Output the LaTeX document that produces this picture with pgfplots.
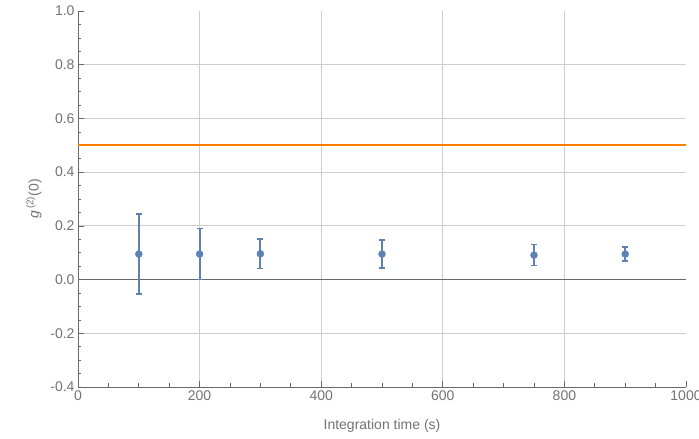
\documentclass[border=0pt]{standalone}
\usepackage{pgfplots}
\pgfplotsset{compat=1.18}
\usepackage{fontspec}
\setmainfont{Liberation Sans}
\definecolor{mblue}{RGB}{94,129,181}
\definecolor{morange}{RGB}{255,128,0}
\definecolor{tickgray}{RGB}{115,115,115}
\definecolor{axgray}{RGB}{105,105,105}
\definecolor{gridgray}{RGB}{205,205,205}
\begin{document}
\begin{tikzpicture}
\begin{axis}[
  scale only axis,
  width=608bp, height=376bp,
  xmin=0, xmax=1000, ymin=-0.4, ymax=1.0,
  axis lines*=left,
  axis line style={axgray, line width=0.8bp},
  xtick={200,400,600,800},
  extra x ticks={0,1000},
  extra x tick style={grid=none},
  ytick={-0.2,0.2,0.4,0.6,0.8},
  extra y ticks={-0.4,0,1.0},
  extra y tick style={grid=none},
  minor xtick={50,100,150,250,300,350,450,500,550,650,700,750,850,900,950},
  minor ytick={-0.35,-0.3,-0.25,-0.15,-0.1,-0.05,0.05,0.1,0.15,0.25,0.3,0.35,0.45,0.5,0.55,0.65,0.7,0.75,0.85,0.9,0.95},
  tick align=inside,
  major tick length=6bp,
  minor tick length=3.5bp,
  tick style={axgray, line width=0.7bp},
  grid=major,
  major grid style={gridgray, line width=0.8bp},
  minor grid style={draw=none},
  xticklabel style={font=\fontsize{14bp}{16bp}\selectfont, text=tickgray},
  yticklabel style={font=\fontsize{14bp}{16bp}\selectfont, text=tickgray},
  /pgf/number format/assume math mode=true,
  /pgf/number format/1000 sep={},
  xticklabel={\pgfmathprintnumber[fixed,precision=0,1000 sep={}]{\tick}},
  yticklabel={\pgfmathprintnumber[fixed,fixed zerofill,precision=1]{\tick}},
  xlabel={Integration time (s)},
  ylabel={\textit{g}\,\textsuperscript{(2)}(0)},
  xlabel style={font=\fontsize{14bp}{16bp}\selectfont, text=tickgray, yshift=-12bp},
  ylabel style={font=\fontsize{14bp}{16bp}\selectfont, text=tickgray, yshift=2bp},
  clip=false,
]
\addplot[axgray, line width=0.9bp, forget plot] coordinates {(0,0) (1000,0)};
\addplot[morange, line width=2.2bp] coordinates {(0,0.5) (1000,0.5)};
\addplot[mblue, only marks, mark=*, mark size=3.5bp,
  error bars/y dir=both, error bars/y explicit,
  error bars/error bar style={line width=2bp, mblue},
  error bars/error mark options={rotate=90, mark size=3bp, line width=1.6bp, mblue}]
  coordinates {
  (100,0.095) +- (0,0.149)
  (200,0.095) +- (0,0.095)
  (300,0.096) +- (0,0.055)
  (500,0.095) +- (0,0.052)
  (750,0.091) +- (0,0.039)
  (900,0.095) +- (0,0.026)
  };
\end{axis}
\pgfresetboundingbox
\path (current axis.south west) ++(-78bp,-52bp) rectangle ([shift={(13bp,11bp)}]current axis.north east);
\end{tikzpicture}
\end{document}
